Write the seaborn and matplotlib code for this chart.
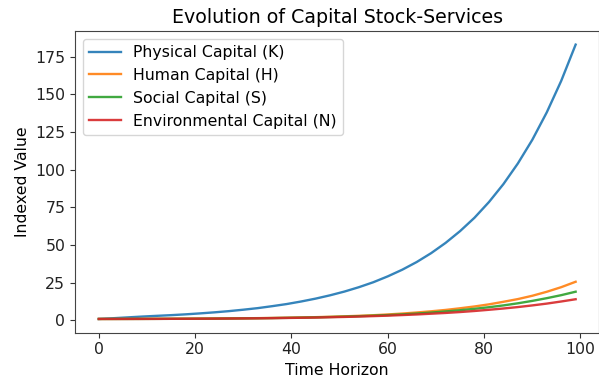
import matplotlib
matplotlib.use("Agg")
import matplotlib.pyplot as plt
import seaborn as sns
import pandas as pd

# Time steps (every third period of the horizon)
periods = [0, 3, 6, 9, 12, 15, 18, 21, 24, 27, 30, 33, 36, 39, 42, 45, 48,
           51, 54, 57, 60, 63, 66, 69, 72, 75, 78, 81, 84, 87, 90, 93, 96, 99]

physical = [1.0, 1.5, 2.05, 2.6, 3.07, 3.53, 4.07, 4.7, 5.4, 6.2, 7.15, 8.2,
            9.5, 10.9, 12.6, 14.5, 16.7, 19.2, 22.1, 25.4, 29.3, 33.7, 38.8,
            44.7, 51.5, 59.3, 68.2, 78.6, 90.5, 104.2, 119.9, 138.1, 159.0, 183.1]
human = [1.0, 1.01, 1.03, 1.05, 1.08, 1.12, 1.17, 1.22, 1.28, 1.36, 1.45, 1.55,
         1.67, 1.82, 2.0, 2.2, 2.46, 2.76, 3.1, 3.5, 4.0, 4.6, 5.3, 6.1, 7.0,
         8.1, 9.3, 10.7, 12.4, 14.2, 16.4, 19.05, 22.1, 25.7]
social = [1.0, 1.01, 1.02, 1.04, 1.07, 1.1, 1.14, 1.19, 1.25, 1.32, 1.4, 1.5,
          1.6, 1.74, 1.9, 2.08, 2.3, 2.55, 2.85, 3.2, 3.6, 4.05, 4.6, 5.25,
          6.0, 6.8, 7.75, 8.8, 10.0, 11.4, 13.0, 14.8, 16.8, 19.1]
environmental = [1.0, 1.01, 1.02, 1.04, 1.06, 1.1, 1.13, 1.18, 1.23, 1.3, 1.37,
                 1.45, 1.55, 1.67, 1.8, 1.95, 2.15, 2.35, 2.6, 2.9, 3.2, 3.6,
                 4.0, 4.5, 5.0, 5.6, 6.3, 7.1, 7.95, 8.9, 10.0, 11.2, 12.6, 14.1]

series_names = ["Physical Capital (K)", "Human Capital (H)",
                "Social Capital (S)", "Environmental Capital (N)"]
series_values = [physical, human, social, environmental]

frames = []
for name, vals in zip(series_names, series_values):
    frames.append(pd.DataFrame({"Time Horizon": periods,
                                "Indexed Value": vals,
                                "Capital": name}))
df = pd.concat(frames, ignore_index=True)

palette = ["#1f77b4", "#ff7f0e", "#2ca02c", "#d62728"]

fig = plt.figure(figsize=(5.99, 3.81), dpi=100)
ax = fig.add_axes([0.1252, 0.1268, 0.8756, 0.7921])
sns.lineplot(data=df, x="Time Horizon", y="Indexed Value", hue="Capital",
             hue_order=series_names, palette=palette, linewidth=1.7,
             alpha=0.9, ax=ax)

ax.set_title("Evolution of Capital Stock-Services", fontsize=13.7)
ax.set_xlabel("Time Horizon", fontsize=11.3)
ax.set_ylabel("Indexed Value", fontsize=11.3)
ax.set_yticks([0, 25, 50, 75, 100, 125, 150, 175])
ax.set_xticks([0, 20, 40, 60, 80, 100])
ax.tick_params(labelsize=11.3, colors="#333333", labelcolor="#222222")
for s in ax.spines.values():
    s.set_color("#444444")
leg = ax.legend(loc="upper left", fontsize=11.3, title=None)
for line in leg.get_lines():
    line.set_linewidth(1.7)

fig.savefig("out.png", dpi=100)
